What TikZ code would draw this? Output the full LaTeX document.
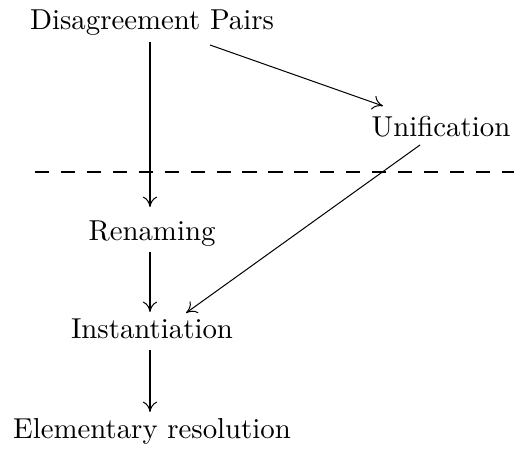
\documentclass[tikz,border=0pt]{standalone}
\usetikzlibrary{calc,arrows.meta}
\begin{document}
\begin{tikzpicture}[x=0.347pt,y=-0.347pt,
  lbl/.style={anchor=base,inner sep=0pt,font=\fontsize{10pt}{12pt}\selectfont},
  conn/.style={-{To[length=3.6pt,width=5pt]},line width=0.35pt},
  sep/.style={dash pattern=on 4.9pt off 4.1pt,line width=0.4pt}]
\useasboundingbox (0,0) rectangle (514,453);
\node[lbl] (dp) at (152,30) {Disagreement Pairs};
\node[lbl] (unif) at (441,137) {Unification};
\node[lbl] (ren) at (152,241) {Renaming};
\node[lbl] (inst) at (152,339) {Instantiation};
\node[lbl] (elem) at (152,439) {Elementary resolution};
\coordinate (dl) at (35,172);
\coordinate (dr) at (514,172);
\draw[sep] (dl) -- (dr);
\draw[conn] ($(dp.base)+(-2,12)$) -- ($(ren.base)+(-2,-34)$);
\draw[conn] ($(dp.base)+(58,15)$) -- ($(unif.base)+(-58,-31)$);
\draw[conn] ($(unif.base)+(-21,8)$) -- ($(inst.base)+(34,-26)$);
\draw[conn] ($(ren.base)+(-2,11)$) -- ($(inst.base)+(-2,-27)$);
\draw[conn] ($(inst.base)+(-2,11)$) -- ($(elem.base)+(-2,-27)$);
\end{tikzpicture}
\end{document}
